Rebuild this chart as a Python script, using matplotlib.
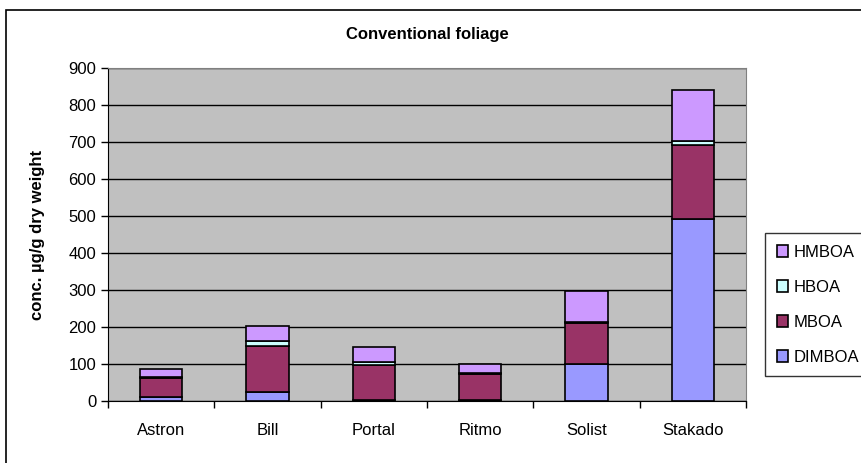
import matplotlib.pyplot as plt
import numpy as np
from matplotlib.patches import Rectangle

plt.rcParams['font.family'] = ['Liberation Sans', 'DejaVu Sans']

cultivars = ['Astron', 'Bill', 'Portal', 'Ritmo', 'Solist', 'Stakado']
dimboa = [10, 25, 3, 3, 100, 493]
mboa = [52, 123, 95, 70, 112, 200]
hboa = [3, 13, 8, 4, 2, 10]
hmboa = [21, 42, 41, 24, 84, 137]

series = [('DIMBOA', dimboa, '#9999FF'),
          ('MBOA', mboa, '#993366'),
          ('HBOA', hboa, '#CCFFFF'),
          ('HMBOA', hmboa, '#CC99FF')]

fig = plt.figure(figsize=(8.61, 4.63), dpi=100)
# outer chart border
fig.patches.append(Rectangle((6 / 861, -0.05), 1.2, 1 - 10 / 463 + 0.05,
                             transform=fig.transFigure, fill=False,
                             edgecolor='black', linewidth=1.2))

ax = fig.add_axes([108 / 861, 1 - 401 / 463, (746 - 108) / 861, (401 - 68) / 463])
ax.set_facecolor('#C0C0C0')

x = np.arange(len(cultivars))
bottom = np.zeros(len(cultivars))
handles = []
for name, vals, color in series:
    b = ax.bar(x, vals, 0.4, bottom=bottom, color=color, edgecolor='black',
               linewidth=1.2, label=name, zorder=3)
    handles.append(b)
    bottom += np.array(vals)

ax.set_xlim(-0.5, len(cultivars) - 0.5)
ax.set_ylim(0, 900)
ax.set_yticks(range(0, 901, 100))
ax.yaxis.grid(True, color='black', linewidth=1, zorder=1)
ax.set_axisbelow(True)
ax.set_xticks(x)
ax.set_xticklabels(cultivars, fontsize=12)
ax.set_xticks(np.arange(-0.5, len(cultivars)), minor=True)
ax.tick_params(axis='x', which='major', length=0, pad=16)
ax.tick_params(axis='x', which='minor', length=5, direction='out', width=1)
ax.tick_params(axis='y', labelsize=12, length=5, width=1)
for side in ['top', 'right']:
    ax.spines[side].set_color('#808080')
ax.spines['left'].set_color('black')
ax.spines['bottom'].set_color('black')

ax.set_ylabel('conc. µg/g dry weight', fontsize=12, fontweight='bold', labelpad=17)
fig.text((108 + 746) / 2 / 861, 1 - 35 / 463, 'Conventional foliage',
         ha='center', va='center', fontsize=12, fontweight='bold')

leg = fig.legend(handles[::-1], [s[0] for s in series][::-1],
                 loc='upper left', bbox_to_anchor=(765 / 861, 1 - 233 / 463),
                 fontsize=12, frameon=True, fancybox=False, shadow=False,
                 handlelength=0.7, handleheight=0.7, handletextpad=0.3,
                 labelspacing=1.2, borderpad=0.7, borderaxespad=0)
leg.get_frame().set_edgecolor('black')
leg.get_frame().set_linewidth(1)

fig.savefig('out.png', dpi=100)
